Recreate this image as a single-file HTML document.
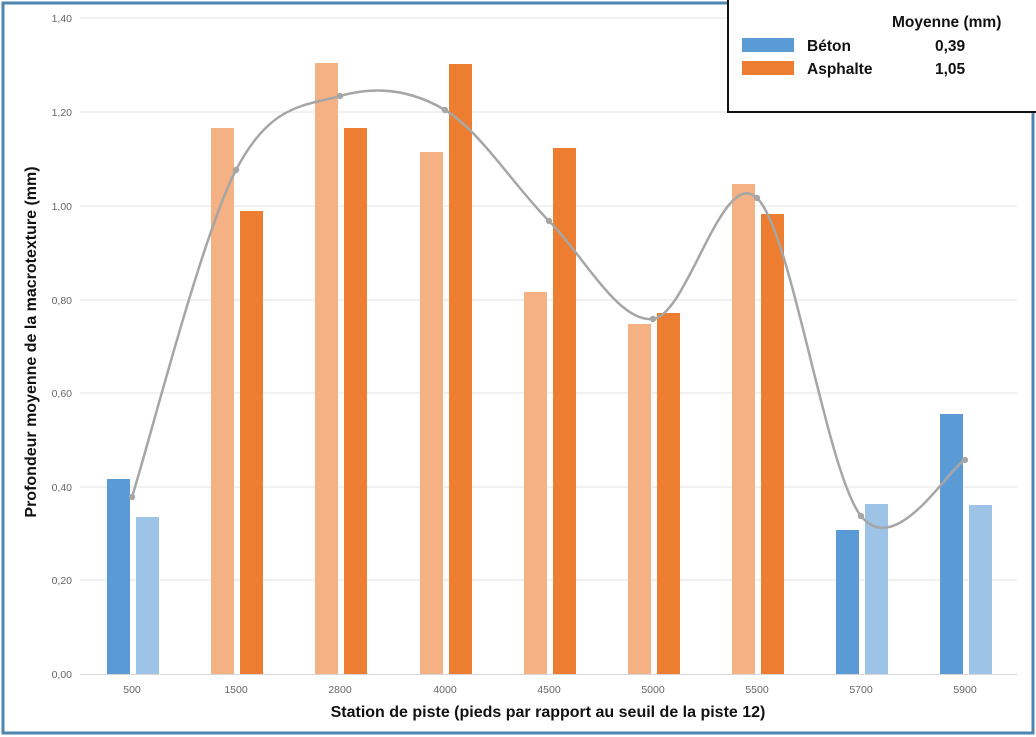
<!DOCTYPE html>
<html><head><meta charset="utf-8"><style>
html,body{margin:0;padding:0;background:#fff;}
svg{display:block;font-family:"Liberation Sans",sans-serif;}
</style></head><body>
<svg width="1036" height="737" viewBox="0 0 1036 737" xmlns="http://www.w3.org/2000/svg">
<rect x="0" y="0" width="1036" height="737" fill="#fff"/>
<rect x="3" y="3" width="1030" height="730" fill="none" stroke="#4f86b0" stroke-width="3"/>
<g stroke="#e3e3e3" stroke-width="1">
<line x1="80" y1="18" x2="1017" y2="18"/>
<line x1="80" y1="112" x2="1017" y2="112"/>
<line x1="80" y1="206" x2="1017" y2="206"/>
<line x1="80" y1="300" x2="1017" y2="300"/>
<line x1="80" y1="393" x2="1017" y2="393"/>
<line x1="80" y1="487" x2="1017" y2="487"/>
<line x1="80" y1="580" x2="1017" y2="580"/>
</g>
<line x1="80" y1="674.5" x2="1017" y2="674.5" stroke="#d6d6d6" stroke-width="1"/>
<g fill="#666" font-size="10.5" text-anchor="end">
<text x="72" y="22">1,40</text><text x="72" y="116">1,20</text><text x="72" y="210">1,00</text>
<text x="72" y="304">0,80</text><text x="72" y="397">0,60</text><text x="72" y="491">0,40</text>
<text x="72" y="584">0,20</text><text x="72" y="678">0,00</text>
</g>
<g>
<rect x="107" y="479" width="23" height="195" fill="#5b9bd5"/>
<rect x="136" y="517" width="23" height="157" fill="#9dc3e6"/>
<rect x="211" y="128" width="23" height="546" fill="#f4b183"/>
<rect x="240" y="211" width="23" height="463" fill="#ed7d31"/>
<rect x="315" y="63" width="23" height="611" fill="#f4b183"/>
<rect x="344" y="128" width="23" height="546" fill="#ed7d31"/>
<rect x="420" y="152" width="23" height="522" fill="#f4b183"/>
<rect x="449" y="64" width="23" height="610" fill="#ed7d31"/>
<rect x="524" y="292" width="23" height="382" fill="#f4b183"/>
<rect x="553" y="148" width="23" height="526" fill="#ed7d31"/>
<rect x="628" y="324" width="23" height="350" fill="#f4b183"/>
<rect x="657" y="313" width="23" height="361" fill="#ed7d31"/>
<rect x="732" y="184" width="23" height="490" fill="#f4b183"/>
<rect x="761" y="214" width="23" height="460" fill="#ed7d31"/>
<rect x="836" y="530" width="23" height="144" fill="#5b9bd5"/>
<rect x="865" y="504" width="23" height="170" fill="#9dc3e6"/>
<rect x="940" y="414" width="23" height="260" fill="#5b9bd5"/>
<rect x="969" y="505" width="23" height="169" fill="#9dc3e6"/>
</g>
<path d="M132,497 C149.3,442.5 201.3,236.8 236,170 C270.7,103.2 305.2,106 340,96 C374.8,86 410.2,89.2 445,110 C479.8,130.8 514.3,186.2 549,221 C583.7,255.8 618.3,322.8 653,319 C687.7,315.2 722.3,165.2 757,198 C791.7,230.8 826.3,472.3 861,516 C895.7,559.7 947.7,469.3 965,460" fill="none" stroke="#a6a6a6" stroke-width="2.5"/>
<g fill="#a6a6a6">
<circle cx="132" cy="497" r="3.2"/><circle cx="236" cy="170" r="3.2"/><circle cx="340" cy="96" r="3.2"/>
<circle cx="445" cy="110" r="3.2"/><circle cx="549" cy="221" r="3.2"/><circle cx="653" cy="319" r="3.2"/>
<circle cx="757" cy="198" r="3.2"/><circle cx="861" cy="516" r="3.2"/><circle cx="965" cy="460" r="3.2"/>
</g>
<g fill="#666" font-size="10.5" text-anchor="middle">
<text x="132" y="693">500</text><text x="236" y="693">1500</text><text x="340" y="693">2800</text>
<text x="445" y="693">4000</text><text x="549" y="693">4500</text><text x="653" y="693">5000</text>
<text x="757" y="693">5500</text><text x="861" y="693">5700</text><text x="965" y="693">5900</text>
</g>
<text x="548" y="717" font-size="16" font-weight="bold" text-anchor="middle" fill="#111">Station de piste (pieds par rapport au seuil de la piste 12)</text>
<text transform="translate(36,342) rotate(-90)" font-size="16" font-weight="bold" text-anchor="middle" fill="#111">Profondeur moyenne de la macrotexture (mm)</text>
<rect x="728" y="-2" width="310" height="114" fill="#fff" stroke="#111" stroke-width="2"/>
<text x="892" y="27" font-size="15.5" font-weight="bold" fill="#111">Moyenne (mm)</text>
<rect x="742" y="38" width="52" height="14" fill="#5b9bd5"/>
<rect x="742" y="61" width="52" height="14" fill="#ed7d31"/>
<text x="807" y="51" font-size="15.5" font-weight="bold" fill="#111">Béton</text>
<text x="807" y="74" font-size="15.5" font-weight="bold" fill="#111">Asphalte</text>
<text x="935" y="51" font-size="15.5" font-weight="bold" fill="#111">0,39</text>
<text x="935" y="74" font-size="15.5" font-weight="bold" fill="#111">1,05</text>
</svg>
</body></html>
